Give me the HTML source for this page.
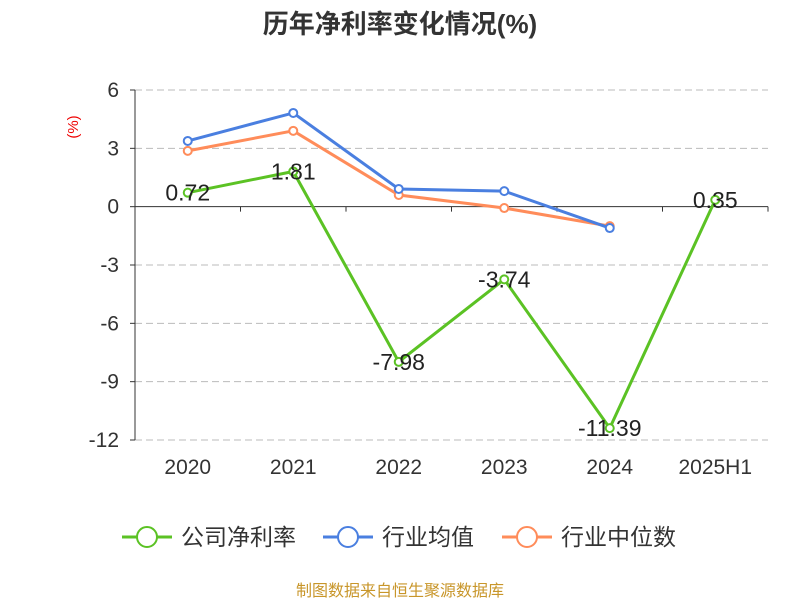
<!DOCTYPE html>
<html><head><meta charset="utf-8"><style>
body{margin:0;background:#fff;width:800px;height:600px;overflow:hidden;font-family:"Liberation Sans","Noto Sans CJK SC",sans-serif}
</style></head><body>
<svg id="chart" width="800" height="600" xmlns="http://www.w3.org/2000/svg" font-family="Liberation Sans, Noto Sans CJK SC, sans-serif">
<text x="400" y="33" text-anchor="middle" font-size="26" font-weight="bold" fill="#333">历年净利率变化情况(%)</text>
<text x="78" y="127" font-size="15" fill="#e00" transform="rotate(-90 78 127)" text-anchor="middle">(%)</text>
<g id="grid"></g><g id="axes"></g><g id="series"></g>
<g font-size="23" fill="#333">
<g><line x1="122" y1="537" x2="172" y2="537" stroke="#5bc224" stroke-width="3"/><circle cx="147" cy="537" r="10" fill="#fff" stroke="#5bc224" stroke-width="2"/><text x="181" y="545">公司净利率</text></g>
<g><line x1="323" y1="537" x2="373" y2="537" stroke="#4a7fe0" stroke-width="3"/><circle cx="348" cy="537" r="10" fill="#fff" stroke="#4a7fe0" stroke-width="2"/><text x="382" y="545">行业均值</text></g>
<g><line x1="502" y1="537" x2="552" y2="537" stroke="#ff8c5a" stroke-width="3"/><circle cx="527" cy="537" r="10" fill="#fff" stroke="#ff8c5a" stroke-width="2"/><text x="561" y="545">行业中位数</text></g>
</g>
<text x="400" y="596" text-anchor="middle" font-size="16" fill="#c8962a">制图数据来自恒生聚源数据库</text>
</svg>
<script>
const categories=["2020","2021","2022","2023","2024","2025H1"];
const companyValues=[0.72,1.81,-7.98,-3.74,-11.39,0.35];
const industryAvg=[3.38,4.82,0.91,0.8,-1.1];
const industryMedian=[2.87,3.9,0.6,-0.07,-1.0];
const yTicks=[6,3,0,-3,-6,-9,-12];
const NS="http://www.w3.org/2000/svg";
const x0=135,x1=768,yTop=90,yBot=440,yMax=6,yMin=-12;
const bw=(x1-x0)/categories.length;
const xs=i=>x0+bw*(i+0.5);
const ys=v=>yTop+(yMax-v)/(yMax-yMin)*(yBot-yTop);
function mk(tag,attrs,parent){const e=document.createElementNS(NS,tag);for(const k in attrs)e.setAttribute(k,attrs[k]);parent.appendChild(e);return e;}
const grid=document.getElementById('grid'),axes=document.getElementById('axes'),ser=document.getElementById('series');
yTicks.forEach(t=>{
 const y=ys(t);
 if(t!==0){const l=mk('line',{x1:x0,x2:x1,y1:y,y2:y,stroke:'#bbb','stroke-dasharray':'7,4'},grid);
 
 }
 const tx=mk('text',{x:x0-16,y:y+7,'text-anchor':'end','font-size':'21',fill:'#333'},axes);tx.textContent=t;
 
 
 mk('line',{x1:x0-5,x2:x0,y1:y,y2:y,stroke:'#333'},axes);
});
mk('line',{x1:x0,x2:x0,y1:yTop,y2:yBot,stroke:'#333'},axes);
const za=mk('line',{x1:x0,x2:x1,y1:ys(0),y2:ys(0),stroke:'#333'},axes);


for(let i=0;i<=categories.length;i++)mk('line',{x1:x0+bw*i,x2:x0+bw*i,y1:ys(0),y2:ys(0)+5,stroke:'#333'},axes);
categories.forEach((c,i)=>{const t=mk('text',{x:xs(i),y:474,'text-anchor':'middle','font-size':'21',fill:'#333'},axes);t.textContent=c;
 
 });
function series(vals,color,name,labels){
 const p=mk('polyline',{points:vals.map((v,i)=>xs(i)+','+ys(v)).join(' '),fill:'none',stroke:color,'stroke-width':3},ser);
 
 
 vals.forEach((v,i)=>{const c=mk('circle',{cx:xs(i),cy:ys(v),r:4,fill:'#fff',stroke:color,'stroke-width':2},ser);
 
 
 if(labels){const t=mk('text',{x:xs(i),y:ys(v)+8,'text-anchor':'middle','font-size':'23',fill:'#222'},ser);t.textContent=v.toFixed(2);
 
 }});
}
series(industryMedian,'#ff8c5a','industry-median',false);
series(industryAvg,'#4a7fe0','industry-avg',false);
series(companyValues,'#5bc224','company',true);
</script>
</body></html>
